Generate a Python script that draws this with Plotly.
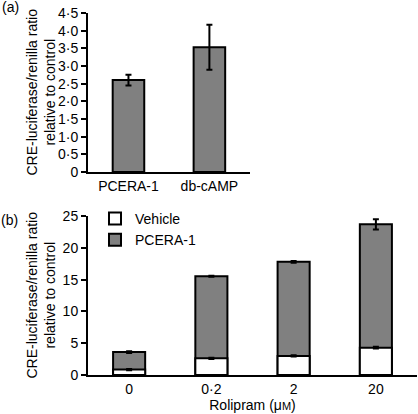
import plotly.graph_objects as go

# Panel (a)
a_categories = ["PCERA-1", "db-cAMP"]
a_values = [2.6, 3.53]
a_errors = [0.15, 0.64]
a_tickvals = [0, 0.5, 1, 1.5, 2, 2.5, 3, 3.5, 4, 4.5]
a_ticktext = ["0", "0·5", "1·0", "1·5", "2·0", "2·5", "3·0", "3·5", "4·0", "4·5"]

# Panel (b)
b_categories = ["0", "0·2", "2", "20"]
b_vehicle = [0.85, 2.63, 3.0, 4.3]
b_vehicle_err = [0.1, 0.1, 0.1, 0.15]
b_pcera = [3.6, 15.53, 17.8, 23.7]
b_pcera_err = [0.15, 0.08, 0.15, 0.8]
b_tickvals = [0, 5, 10, 15, 20, 25]

FONT = "Liberation Sans, Arial, sans-serif"
FS = 14
GREY = "#808080"

fig = go.Figure()

fig.add_trace(go.Bar(
    x=a_categories, y=a_values, xaxis="x", yaxis="y", width=0.39,
    marker=dict(color=GREY, line=dict(color="black", width=2)),
    error_y=dict(type="data", array=a_errors, color="black", thickness=2, width=3),
    showlegend=False,
))

fig.add_trace(go.Bar(
    x=b_categories, y=b_pcera, xaxis="x2", yaxis="y2", width=0.39, name="PCERA-1",
    marker=dict(color=GREY, line=dict(color="black", width=2)),
    error_y=dict(type="data", array=b_pcera_err, color="black", thickness=2, width=3),
))
fig.add_trace(go.Bar(
    x=b_categories, y=b_vehicle, xaxis="x2", yaxis="y2", width=0.39, name="Vehicle",
    marker=dict(color="white", line=dict(color="black", width=2)),
    error_y=dict(type="data", array=b_vehicle_err, color="black", thickness=2, width=3),
))

axis_common = dict(showgrid=False, zeroline=False, showline=True, linecolor="black",
                   linewidth=2, automargin=False,
                   tickfont=dict(family=FONT, size=FS, color="black"))


# position helpers in paper coordinates
def px_x(p):
    return (p - 88) / 329.0


def px_y(p):
    return (375 - p) / 362.0


fig.update_layout(
    width=418, height=414,
    margin=dict(l=88, r=1, t=13, b=39, autoexpand=False),
    paper_bgcolor="white", plot_bgcolor="white",
    barmode="overlay",
    font=dict(family=FONT, size=FS, color="black"),
    xaxis=dict(domain=[0, 0.492], anchor="y", ticks="", **axis_common),
    yaxis=dict(domain=[0.561, 1], anchor="x", range=[0, 4.5], tickvals=a_tickvals,
               ticktext=a_ticktext, ticks="outside", ticklen=5, tickwidth=2,
               tickcolor="black", **axis_common),
    xaxis2=dict(domain=[0, 1], anchor="y2", ticks="", **axis_common,
                title=dict(text="Rolipram (μ<span style='font-size:11px'>M</span>)",
                           font=dict(family=FONT, size=FS), standoff=0)),
    yaxis2=dict(domain=[0, 0.439], anchor="x2", range=[0, 25], tickvals=b_tickvals,
                ticks="outside", ticklen=5, tickwidth=2, tickcolor="black", **axis_common),
    legend=dict(x=px_x(95), y=px_y(203), xanchor="left", yanchor="top",
                xref="paper", yref="paper", bgcolor="rgba(0,0,0,0)",
                traceorder="reversed",
                font=dict(family=FONT, size=FS), itemwidth=30),
)

for txt, x, y in [("(a)", 10, 7), ("(b)", 9, 220)]:
    fig.add_annotation(text=txt, x=px_x(x), y=px_y(y), xref="paper", yref="paper",
                       showarrow=False, xanchor="center", yanchor="middle",
                       font=dict(family=FONT, size=FS))
for yc in [92.5, 295.5]:
    fig.add_annotation(text="CRE-luciferase/renilla ratio<br>relative to control",
                       x=px_x(40), y=px_y(yc), xref="paper", yref="paper", textangle=-90,
                       showarrow=False, xanchor="center", yanchor="middle",
                       font=dict(family=FONT, size=FS))

fig.write_html("out.html", config={"displayModeBar": False},
               post_script="document.body.style.margin='0';document.body.style.padding='0';")
